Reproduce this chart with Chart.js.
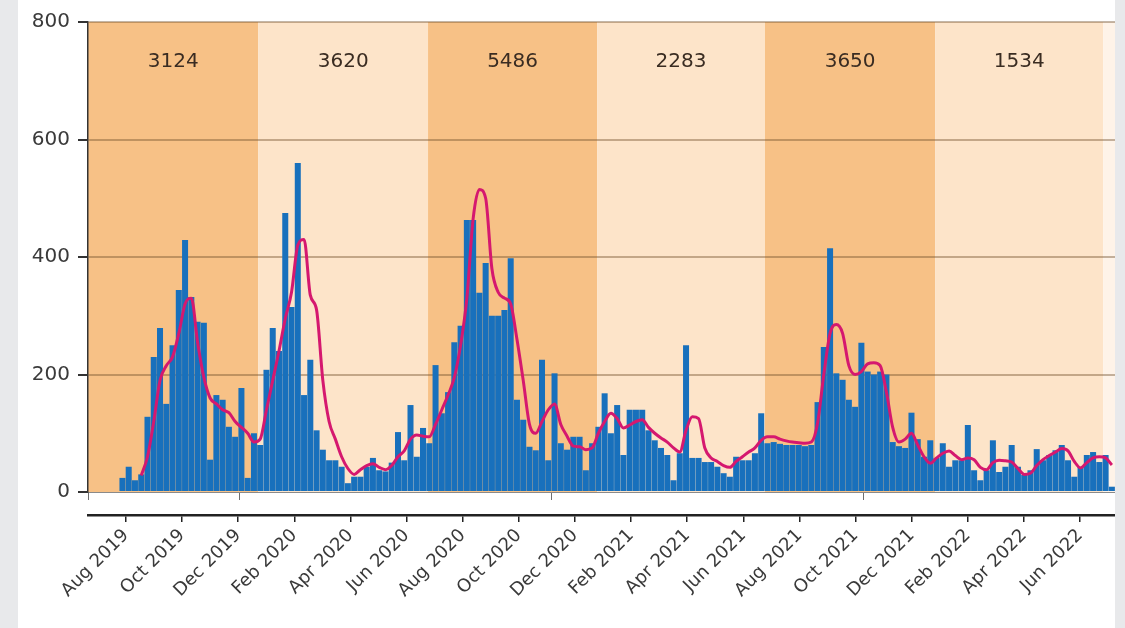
<!DOCTYPE html>
<html lang="en">
  <head>
    <meta charset="UTF-8" />
    <title>Weekly cases</title>
    <style>
      body {
        margin: 0;
        background-color: #e8e9eb;
        width: 1125px;
        height: 628px;
        overflow: hidden;
      }

      .panel {
        position: absolute;
        left: 18px;
        top: 0;
        width: 1097px;
        height: 628px;
        background-color: #ffffff;
      }
    </style>
  </head>
  <body>
    <div class="panel">
      <canvas id="weeklyChart" width="1097" height="628"></canvas>
    </div>

    <script src="https://cdn.jsdelivr.net/npm/chart.js"></script>
    <script>
      // week index of the first bar
      var firstWeek = 5;

      // weekly counts (blue bars)
      var cases = [
        24, 43, 20, 30, 128, 230, 279, 150, 250, 344,
        429, 332, 290, 288, 55, 165, 157, 111, 94, 177,
        24, 100, 80, 208, 279, 240, 475, 315, 560, 165,
        225, 105, 72, 54, 54, 43, 15, 26, 26, 43,
        58, 37, 35, 50, 102, 54, 148, 60, 109, 83,
        216, 134, 170, 255, 283, 463, 463, 339, 390, 300,
        300, 310, 398, 157, 123, 77, 71, 225, 54, 202,
        83, 72, 94, 94, 37, 83, 111, 168, 100, 148,
        63, 140, 140, 140, 105, 88, 75, 63, 20, 66,
        250, 58, 58, 51, 51, 43, 32, 26, 60, 54,
        54, 66, 134, 83, 85, 82, 80, 80, 80, 78,
        80, 153, 247, 415, 202, 191, 157, 145, 254, 205,
        200, 205, 200, 85, 78, 75, 135, 90, 60, 88,
        58, 83, 43, 54, 54, 114, 37, 20, 37, 88,
        34, 43, 80, 43, 29, 37, 73, 54, 63, 71,
        80, 54, 26, 43, 63, 68, 51, 63, 9
      ];

      // smoothed trend (magenta line)
      var trend = [
        null, null, null, 28, 60, 120, 190, 215, 230, 270,
        320, 330, 255, 195, 160, 150, 140, 135, 120, 110,
        100, 85, 90, 140, 190, 240, 295, 340, 420, 430,
        335, 310, 190, 120, 90, 60, 40, 30, 38, 45,
        48, 42, 38, 45, 60, 70, 90, 97, 95, 94,
        115, 140, 165, 195, 250, 330, 465, 515, 500, 380,
        340, 330, 320, 260, 190, 115, 100, 120, 140, 150,
        115, 95, 78, 77, 72, 75, 100, 120, 134, 125,
        109, 114, 120, 123, 110, 100, 92, 85, 75, 68,
        105, 128, 125, 75, 58, 52, 45, 42, 52, 60,
        68, 75, 88, 94, 94, 90, 87, 85, 84, 83,
        85, 117, 200, 270, 285, 270, 215, 200, 205, 218,
        220, 215, 170, 110, 85, 90, 100, 80, 60, 49,
        58, 66, 70, 62, 55, 58, 55, 42, 38, 50,
        54, 53, 51, 40, 30, 32, 45, 55, 62, 68,
        74, 70, 52, 41, 50, 58, 60, 58, 46
      ];

      // season periods (in weeks) and their totals
      var periodEdges = [-0.5, 26.7, 53.8, 80.8, 107.6, 134.8, 161.6];
      var periodTotals = ["3124", "3620", "5486", "2283", "3650", "1534"];

      // lower axis labels, one every two months
      var monthLabels = [
        "Aug 2019", "Oct 2019", "Dec 2019", "Feb 2020", "Apr 2020", "Jun 2020",
        "Aug 2020", "Oct 2020", "Dec 2020", "Feb 2021", "Apr 2021", "Jun 2021",
        "Aug 2021", "Oct 2021", "Dec 2021", "Feb 2022", "Apr 2022", "Jun 2022"
      ];

      var yTicks = [0, 200, 400, 600, 800];

      var barPoints = cases.map(function (v, k) {
        return { x: firstWeek + k, y: v };
      });
      var linePoints = [];
      trend.forEach(function (v, k) {
        if (v !== null) linePoints.push({ x: firstWeek + k, y: v });
      });

      var bandPlugin = {
        id: "bands",
        beforeDraw: function (chart) {
          var ctx = chart.ctx;
          var area = chart.chartArea;
          var xs = chart.scales.x;
          var ys = chart.scales.y;
          ctx.save();
          for (var i = 0; i < periodTotals.length; i++) {
            var x0 = xs.getPixelForValue(periodEdges[i]);
            var x1 = xs.getPixelForValue(periodEdges[i + 1]);
            ctx.fillStyle = i % 2 === 0 ? "#f7c186" : "#fde4c9";
            ctx.fillRect(x0, area.top, x1 - x0, area.bottom - area.top);
            ctx.fillStyle = "#3a2c22";
            ctx.font = "20px 'DejaVu Sans'";
            ctx.textAlign = "center";
            ctx.textBaseline = "middle";
            ctx.fillText(periodTotals[i], (x0 + x1) / 2, ys.getPixelForValue(732));
          }
          // thin pale strip after the last period
          var xe = xs.getPixelForValue(periodEdges[periodEdges.length - 1]);
          ctx.fillStyle = "#fef3e8";
          ctx.fillRect(xe, area.top, area.right - xe, area.bottom - area.top);
          ctx.restore();
        },
      };

      var ctx = document.getElementById("weeklyChart").getContext("2d");
      var weeklyChart = new Chart(ctx, {
        type: "bar",
        data: {
          datasets: [
            {
              type: "line",
              data: linePoints,
              borderColor: "#d5186f",
              borderWidth: 3,
              pointRadius: 0,
              cubicInterpolationMode: "monotone",
              order: 1,
            },
            {
              type: "bar",
              data: barPoints,
              backgroundColor: "#1870bc",
              categoryPercentage: 1,
              barPercentage: 0.96,
              order: 2,
            },
          ],
        },
        options: {
          responsive: false,
          animation: false,
          layout: { padding: { top: 22, left: 0, right: 0, bottom: 0 } },
          plugins: {
            legend: { display: false },
            tooltip: { enabled: false },
          },
          scales: {
            x: {
              type: "linear",
              position: "bottom",
              weight: 0,
              min: -0.5,
              max: 163.5,
              offset: false,
              afterBuildTicks: function (scale) {
                scale.ticks = [-0.5, 23.77, 73.44, 123.3, 163.5].map(function (v) {
                  return { value: v };
                });
              },
              afterFit: function (scale) {
                scale.height = 23;
              },
              ticks: { display: false },
              grid: {
                drawOnChartArea: false,
                drawTicks: true,
                tickLength: 8,
                color: "#6f6f6f",
                offset: false,
              },
              border: { color: "#8a8a8a", width: 1 },
            },
            m: {
              type: "linear",
              position: "bottom",
              weight: 1,
              min: -1.354,
              max: 35.245,
              offset: false,
              afterBuildTicks: function (scale) {
                scale.ticks = monthLabels.map(function (_, k) {
                  return { value: 2 * k };
                });
              },
              afterFit: function (scale) {
                scale.height = 113;
              },
              ticks: {
                autoSkip: false,
                minRotation: 45,
                maxRotation: 45,
                padding: 3,
                color: "#3a3a3a",
                font: { family: "'DejaVu Sans'", size: 18 },
                callback: function (value, index) {
                  return monthLabels[index];
                },
              },
              grid: {
                drawOnChartArea: false,
                drawTicks: true,
                tickLength: 7,
                color: "#222",
                lineWidth: 1.5,
                offset: false,
              },
              border: { color: "#222", width: 2.5 },
            },
            y: {
              min: 0,
              max: 800,
              afterBuildTicks: function (scale) {
                scale.ticks = yTicks.map(function (v) {
                  return { value: v };
                });
              },
              afterFit: function (scale) {
                scale.width = 70;
              },
              ticks: {
                padding: 8,
                color: "#3a3a3a",
                font: { family: "'DejaVu Sans'", size: 20 },
              },
              grid: {
                color: function (c) {
                  return c.tick && c.tick.value === 0 ? "rgba(0,0,0,0)" : "rgba(115,80,45,0.42)";
                },
                lineWidth: 2,
                tickColor: "#333",
                tickLength: 10,
              },
              border: { color: "#333", width: 1.5 },
            },
          },
        },
        plugins: [bandPlugin],
      });
    </script>
  </body>
</html>
